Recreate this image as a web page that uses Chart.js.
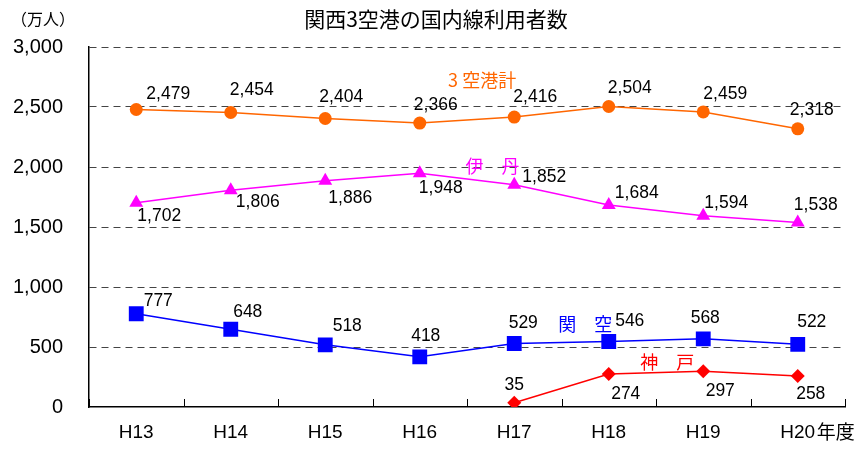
<!DOCTYPE html>
<html>
<head>
<meta charset="utf-8">
<script src="https://cdn.jsdelivr.net/npm/chart.js@4.4.0/dist/chart.umd.min.js"></script>
<style>
  html, body { margin: 0; padding: 0; background: #fff; }
  #wrap { width: 866px; height: 453px; }
</style>
</head>
<body>
<div id="wrap"><canvas id="chart" width="866" height="453"></canvas></div>
<script>
// データ（単位：万人）
const years = ['H13', 'H14', 'H15', 'H16', 'H17', 'H18', 'H19', 'H20'];
const total = [2479, 2454, 2404, 2366, 2416, 2504, 2459, 2318];
const itami = [1702, 1806, 1886, 1948, 1852, 1684, 1594, 1538];
const kanku = [777, 648, 518, 418, 529, 546, 568, 522];
const kobe = [null, null, null, null, 35, 274, 297, 258];
const yTicks = [0, 500, 1000, 1500, 2000, 2500, 3000];

// 数値ラベルの位置（点からのずれ, px）
const totalDx = [32, 21, 16, 16, 21, 21, 22, 14];
const totalDy = [-15, -22, -21, -18, -20, -18, -18, -19];
const itamiDx = [23, 27, 25, 21, 30, 28, 23, 18];
const itamiDy = [13, 12, 17, 15, -8, -12, -13, -17];
const kankuDx = [22, 17, 22, 6, 9, 21, 2, 14];
const kankuDy = [-13, -17, -19, -21, -20, -20, -21, -22];
const kobeDx = [0, 0, 0, 0, 0, 17, 17, 13];
const kobeDy = [0, 0, 0, 0, -18, 20, 20, 18];

const NUM_FONT = '"Liberation Sans", Arial, sans-serif';
const JP_FONT = '"Noto Sans CJK JP", "Noto Sans", sans-serif';

// 系列名（データ座標で配置）
const seriesNames = [
  { text: '3 空港計', color: '#FF6600', idx: 3.66, val: 2725 },
  { text: '伊　丹', color: '#FF00FF', idx: 3.77, val: 2008 },
  { text: '関　空', color: '#0000FF', idx: 4.75, val: 692 },
  { text: '神　戸', color: '#FF0000', idx: 5.62, val: 375 }
];

const labelOffsets = [
  [totalDx, totalDy],
  [itamiDx, itamiDy],
  [kankuDx, kankuDy],
  [kobeDx, kobeDy]
];

const fmt = v => v.toLocaleString('en-US');

const decorPlugin = {
  id: 'decor',
  afterDatasetsDraw(chart) {
    const ctx = chart.ctx;
    const xs = chart.scales.x;
    const ys = chart.scales.y;
    const x0 = xs.getPixelForValue(0);
    const step = xs.getPixelForValue(1) - x0;

    ctx.save();

    // 下軸の目盛り（内向き）
    ctx.strokeStyle = '#000';
    ctx.lineWidth = 1;
    for (let i = 0; i <= years.length; i++) {
      const x = Math.round(x0 + (i - 0.5) * step) + 0.5;
      ctx.beginPath();
      ctx.moveTo(x, ys.bottom);
      ctx.lineTo(x, ys.bottom - 8);
      ctx.stroke();
    }

    // 数値ラベル
    ctx.fillStyle = '#000';
    ctx.font = '17.5px ' + NUM_FONT;
    ctx.textAlign = 'center';
    ctx.textBaseline = 'middle';
    chart.data.datasets.forEach((ds, di) => {
      const meta = chart.getDatasetMeta(di);
      const [dx, dy] = labelOffsets[di];
      ds.data.forEach((v, i) => {
        if (v === null) return;
        const pt = meta.data[i];
        ctx.fillText(fmt(v), pt.x + dx[i], pt.y + dy[i]);
      });
    });

    // 系列名
    ctx.font = '18px ' + JP_FONT;
    seriesNames.forEach(s => {
      ctx.fillStyle = s.color;
      ctx.fillText(s.text, x0 + s.idx * step, ys.getPixelForValue(s.val));
    });

    // タイトル・単位・年度
    ctx.fillStyle = '#000';
    ctx.font = '21px ' + JP_FONT;
    ctx.fillText('関西3空港の国内線利用者数', 436, 19);
    ctx.font = '16px ' + JP_FONT;
    ctx.textAlign = 'left';
    ctx.fillText('（万人）', 11, 19);
    ctx.font = '19px ' + JP_FONT;
    ctx.fillText('年度', xs.getPixelForValue(7) + 19, 432);

    ctx.restore();
  }
};

new Chart(document.getElementById('chart'), {
  type: 'line',
  data: {
    labels: years,
    datasets: [
      {
        label: '3空港計', data: total,
        borderColor: '#FF6600', backgroundColor: '#FF6600',
        pointStyle: 'circle', pointRadius: 6.5
      },
      {
        label: '伊丹', data: itami,
        borderColor: '#FF00FF', backgroundColor: '#FF00FF',
        pointStyle: 'triangle', pointRadius: 8
      },
      {
        label: '関空', data: kanku,
        borderColor: '#0000FF', backgroundColor: '#0000FF',
        pointStyle: 'rect', pointRadius: 10.5
      },
      {
        label: '神戸', data: kobe,
        borderColor: '#FF0000', backgroundColor: '#FF0000',
        pointStyle: 'rectRot', pointRadius: 7
      }
    ]
  },
  options: {
    responsive: false,
    animation: false,
    devicePixelRatio: 1,
    layout: { padding: { top: 47, right: 21, bottom: 0, left: 0 } },
    elements: {
      line: { borderWidth: 1.5, tension: 0 },
      point: { borderWidth: 0, hoverRadius: 7 }
    },
    plugins: {
      legend: { display: false },
      title: { display: false },
      tooltip: { enabled: false }
    },
    scales: {
      x: {
        offset: true,
        grid: { display: false, drawTicks: false },
        border: { display: true, color: '#000', width: 1.5 },
        ticks: {
          color: '#000',
          padding: 14,
          font: { size: 19, family: NUM_FONT }
        },
        afterFit: s => { s.height = 46; }
      },
      y: {
        min: 0, max: 3000,
        afterBuildTicks: s => { s.ticks = yTicks.map(v => ({ value: v })); },
        grid: {
          drawTicks: false,
          color: c => (c.tick && c.tick.value === 0) ? 'rgba(0,0,0,0)' : '#444',
          lineWidth: 1
        },
        border: { display: true, color: '#000', width: 1.5, dash: [7, 5] },
        ticks: {
          color: '#000',
          padding: 26,
          font: { size: 20, family: NUM_FONT },
          callback: v => fmt(v)
        },
        afterFit: s => { s.width = 89; }
      }
    }
  },
  plugins: [decorPlugin]
});
</script>
</body>
</html>
